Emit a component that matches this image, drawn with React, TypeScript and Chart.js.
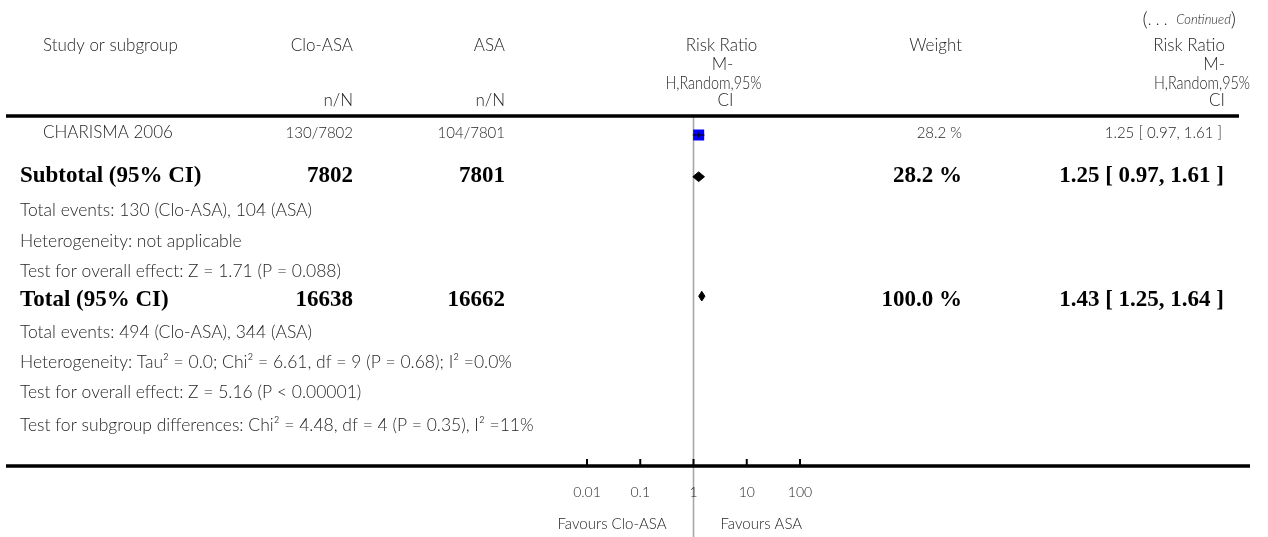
import React, { useEffect, useRef } from "react";
import { Chart, registerables } from "chart.js";

Chart.register(...registerables);

// ---------------- data ----------------
const studyNames = ["CHARISMA 2006"];
const cloEvents = [130];
const cloTotals = [7802];
const asaEvents = [104];
const asaTotals = [7801];
const studyRR = [1.25];
const studyLow = [0.97];
const studyHigh = [1.61];
const studyWeight = [28.2];

const subtotalTotals = [7802, 7801];
const subtotalEffect = [1.25, 0.97, 1.61];
const subtotalWeight = 28.2;

const totalTotals = [16638, 16662];
const totalEffect = [1.43, 1.25, 1.64];
const totalWeight = 100.0;

const subtotalNotes = [
  "Total events: 130 (Clo-ASA), 104 (ASA)",
  "Heterogeneity: not applicable",
  "Test for overall effect: Z = 1.71 (P = 0.088)",
];
const totalNotes = [
  "Total events: 494 (Clo-ASA), 344 (ASA)",
  "Heterogeneity: Tau\u00B2 = 0.0; Chi\u00B2 = 6.61, df = 9 (P = 0.68); I\u00B2 =0.0%",
  "Test for overall effect: Z = 5.16 (P < 0.00001)",
  "Test for subgroup differences: Chi\u00B2 = 4.48, df = 4 (P = 0.35), I\u00B2 =11%",
];

const tickValues = [0.01, 0.1, 1, 10, 100];
const tickLabels = ["0.01", "0.1", "1", "10", "100"];
const favourLabels = ["Favours Clo-ASA", "Favours ASA"];
const effectHeader = ["Risk Ratio", "M-", "H,Random,95%", "CI"];

// ---------------- layout ----------------
const W = 1268;
const H = 537;
const ROW = {
  cont: 20,
  head: [46, 65, 84, 101],
  nN: 101,
  rule: 116,
  study: 133,
  box: 131,
  subtotal: 176,
  subDiamond: 174,
  subNotes: [210, 241, 271],
  total: 300,
  totDiamond: 297,
  totNotes: [332, 362, 392, 425],
  axis: 466,
  tickLab: 492,
  favour: 524,
};
const COL = {
  left: 20,
  indent: 43,
  clo: 353,
  asa: 505,
  weight: 962,
  rrBold: 1224,
  rrReg: 1222,
  rrHead: 1225,
  rrHeadWide: 1250,
  contR: 1236,
  ruleL: 6,
  topRuleR: 1239,
  botRuleR: 1250,
};
const PLOT = { left: 587, right: 800 };
const midHeadOffset = [28, 29, 20, 32];
const headMaxWidth = [undefined, undefined, 96, undefined];

const FONT = "Lato";
const REG = `300 17px ${FONT}`;
const NOTE = `300 17.5px ${FONT}`;
const NUM = `300 15px ${FONT}`;
const BOLD = `bold 23px "Liberation Serif"`;
const INK = "#262626";

const fmtRR = (rr: number, lo: number, hi: number) =>
  `${rr.toFixed(2)} [ ${lo.toFixed(2)}, ${hi.toFixed(2)} ]`;
const fmtW = (w: number) => `${w.toFixed(1)} %`;

const diamond = (rr: number, lo: number, hi: number, y: number, h: number) => [
  { x: lo, y },
  { x: rr, y: y - h },
  { x: hi, y },
  { x: rr, y: y + h },
  { x: lo, y },
];

function txt(
  ctx: CanvasRenderingContext2D,
  s: string,
  x: number,
  y: number,
  align: CanvasTextAlign,
  font: string,
  color: string = INK,
  maxWidth?: number
) {
  ctx.font = font;
  ctx.textAlign = align;
  ctx.textBaseline = "middle";
  ctx.fillStyle = color;
  if (maxWidth) ctx.fillText(s, x, y, maxWidth);
  else ctx.fillText(s, x, y);
}

export default function App() {
  const ref = useRef<HTMLCanvasElement>(null);

  useEffect(() => {
    document.body.style.margin = "0";
    const canvas = ref.current!;

    const tablePlugin = {
      id: "forestTable",
      beforeDatasetsDraw(chart: any) {
        const ctx: CanvasRenderingContext2D = chart.ctx;
        const x1 = chart.scales.x.getPixelForValue(1);
        ctx.save();
        ctx.strokeStyle = "#a8a8a8";
        ctx.lineWidth = 1.6;
        ctx.beginPath();
        ctx.moveTo(x1, ROW.rule);
        ctx.lineTo(x1, H);
        ctx.stroke();
        ctx.restore();
      },
      afterDraw(chart: any) {
        const ctx: CanvasRenderingContext2D = chart.ctx;
        const xs = chart.scales.x;
        const x1 = xs.getPixelForValue(1);
        ctx.save();

        // (... Continued)
        {
          let xr = COL.contR;
          const parts: [string, string][] = [
            [")", `300 20px ${FONT}`],
            ["Continued", `italic 300 13px ${FONT}`],
            [". . .  ", `300 16px ${FONT}`],
            ["(", `300 20px ${FONT}`],
          ];
          for (const [s, f] of parts) {
            txt(ctx, s, xr, ROW.cont, "right", f);
            ctx.font = f;
            xr -= ctx.measureText(s).width;
          }
        }

        // header
        txt(ctx, "Study or subgroup", COL.indent, ROW.head[0], "left", REG);
        txt(ctx, "Clo-ASA", COL.clo, ROW.head[0], "right", REG);
        txt(ctx, "ASA", COL.asa, ROW.head[0], "right", REG);
        txt(ctx, "n/N", COL.clo, ROW.nN, "right", REG);
        txt(ctx, "n/N", COL.asa, ROW.nN, "right", REG);
        effectHeader.forEach((s, i) =>
          txt(ctx, s, x1 + midHeadOffset[i], ROW.head[i], "center", REG, INK, headMaxWidth[i])
        );
        txt(ctx, "Weight", COL.weight, ROW.head[0], "right", REG);
        effectHeader.forEach((s, i) =>
          txt(ctx, s, i === 2 ? COL.rrHeadWide : COL.rrHead, ROW.head[i], "right", REG, INK, headMaxWidth[i])
        );

        // rules
        ctx.strokeStyle = "#000";
        ctx.lineWidth = 3.5;
        ctx.beginPath();
        ctx.moveTo(COL.ruleL, ROW.rule);
        ctx.lineTo(COL.topRuleR, ROW.rule);
        ctx.moveTo(COL.ruleL, ROW.axis);
        ctx.lineTo(COL.botRuleR, ROW.axis);
        ctx.stroke();

        // study rows
        studyNames.forEach((name, i) => {
          const y = ROW.study;
          txt(ctx, name, COL.indent, y, "left", REG);
          txt(ctx, `${cloEvents[i]}/${cloTotals[i]}`, COL.clo, y, "right", NUM);
          txt(ctx, `${asaEvents[i]}/${asaTotals[i]}`, COL.asa, y, "right", NUM);
          txt(ctx, fmtW(studyWeight[i]), COL.weight, y, "right", NUM);
          txt(ctx, fmtRR(studyRR[i], studyLow[i], studyHigh[i]), COL.rrReg, y, "right", NUM);
        });

        // subtotal
        txt(ctx, "Subtotal (95% CI)", COL.left, ROW.subtotal, "left", BOLD, "#000");
        txt(ctx, String(subtotalTotals[0]), COL.clo, ROW.subtotal, "right", BOLD, "#000");
        txt(ctx, String(subtotalTotals[1]), COL.asa, ROW.subtotal, "right", BOLD, "#000");
        txt(ctx, fmtW(subtotalWeight), COL.weight, ROW.subtotal, "right", BOLD, "#000");
        txt(ctx, fmtRR(subtotalEffect[0], subtotalEffect[1], subtotalEffect[2]), COL.rrBold, ROW.subtotal, "right", BOLD, "#000");
        subtotalNotes.forEach((s, i) => txt(ctx, s, COL.left, ROW.subNotes[i], "left", NOTE));

        // total
        txt(ctx, "Total (95% CI)", COL.left, ROW.total, "left", BOLD, "#000");
        txt(ctx, String(totalTotals[0]), COL.clo, ROW.total, "right", BOLD, "#000");
        txt(ctx, String(totalTotals[1]), COL.asa, ROW.total, "right", BOLD, "#000");
        txt(ctx, fmtW(totalWeight), COL.weight, ROW.total, "right", BOLD, "#000");
        txt(ctx, fmtRR(totalEffect[0], totalEffect[1], totalEffect[2]), COL.rrBold, ROW.total, "right", BOLD, "#000");
        totalNotes.forEach((s, i) => txt(ctx, s, COL.left, ROW.totNotes[i], "left", NOTE));

        // axis ticks + labels
        ctx.strokeStyle = "#000";
        ctx.lineWidth = 2;
        tickValues.forEach((v, i) => {
          const px = xs.getPixelForValue(v);
          ctx.beginPath();
          ctx.moveTo(px, ROW.axis);
          ctx.lineTo(px, ROW.axis - 7);
          ctx.stroke();
          txt(ctx, tickLabels[i], px, ROW.tickLab, "center", `300 14px ${FONT}`);
        });
        txt(ctx, favourLabels[0], x1 - 27, ROW.favour, "right", `300 15px ${FONT}`);
        txt(ctx, favourLabels[1], x1 + 27, ROW.favour, "left", `300 15px ${FONT}`);

        ctx.restore();
      },
    };

    const chart = new Chart(canvas, {
      type: "scatter",
      data: {
        datasets: [
          {
            type: "line",
            label: "CI",
            data: [
              { x: studyLow[0], y: ROW.box },
              { x: studyHigh[0], y: ROW.box },
            ],
            borderColor: "#000",
            borderWidth: 1,
            pointRadius: 0,
            order: 1,
          },
          {
            label: "point",
            data: [{ x: studyRR[0], y: ROW.box }],
            pointStyle: "line",
            rotation: 90,
            pointRadius: 2.5,
            borderColor: "#000",
            borderWidth: 1,
            order: 0,
          },
          {
            label: "weight box",
            data: [{ x: studyRR[0], y: ROW.box }],
            pointStyle: "rect",
            pointRadius: 7.8,
            backgroundColor: "#0000ff",
            borderColor: "#0000ff",
            borderWidth: 0,
            order: 2,
          },
          {
            type: "line",
            label: "subtotal",
            data: diamond(subtotalEffect[0], subtotalEffect[1], subtotalEffect[2], ROW.subDiamond, 5),
            borderColor: "#000",
            backgroundColor: "#000",
            borderWidth: 1,
            pointRadius: 0,
            fill: "shape",
            tension: 0,
          },
          {
            type: "line",
            label: "total",
            data: diamond(totalEffect[0], totalEffect[1], totalEffect[2], ROW.totDiamond, 5),
            borderColor: "#000",
            backgroundColor: "#000",
            borderWidth: 1,
            pointRadius: 0,
            fill: "shape",
            tension: 0,
          },
        ],
      } as any,
      options: {
        animation: false,
        responsive: false,
        events: [],
        layout: { padding: { left: PLOT.left, right: W - PLOT.right, top: 0, bottom: 0 } },
        scales: {
          x: { type: "logarithmic", min: 0.01, max: 100, display: false },
          y: { type: "linear", min: 0, max: H, reverse: true, display: false },
        },
        plugins: { legend: { display: false }, tooltip: { enabled: false } },
      } as any,
      plugins: [tablePlugin],
    });
    return () => chart.destroy();
  }, []);

  return <canvas ref={ref} width={W} height={H} style={{ display: "block" }} />;
}
